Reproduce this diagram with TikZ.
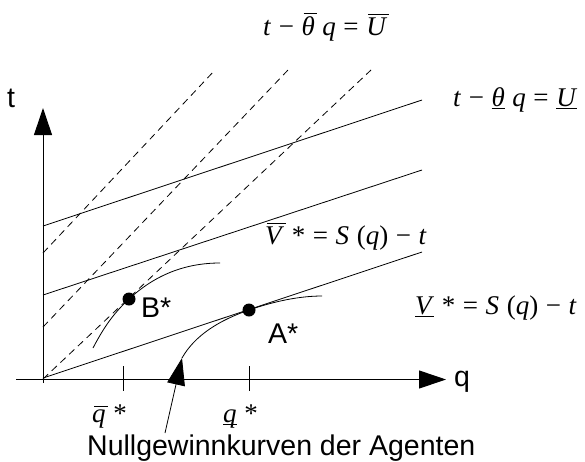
\documentclass[tikz,border=0pt]{standalone}
\usepackage{fontspec}
\setmainfont{Liberation Sans}
\newfontfamily\libser{Liberation Serif}
\usetikzlibrary{arrows.meta}
\newcommand\olx[1]{\setbox0\hbox{#1}\rlap{\kern2pt\rule[\dimexpr\ht0+2pt\relax]{\wd0}{1pt}}\box0}
\newcommand\ulx[1]{\setbox0\hbox{#1}\rlap{\rule[-3pt]{\wd0}{1pt}}\box0}
\newcommand\gp{\hspace{0.28em}}
\tikzset{
  mlbl/.style={font=\libser\fontsize{27}{29}\selectfont, inner sep=0pt, anchor=base west},
  slbl/.style={font=\fontsize{28.5}{30}\selectfont, inner sep=0pt, anchor=base west},
  axisline/.style={line width=1pt, -{Triangle[length=27pt,width=18pt]}},
  solidline/.style={line width=0.8pt},
  dashline/.style={line width=0.8pt, dash pattern=on 7pt off 5pt},
  curveline/.style={line width=0.8pt},
  dotmark/.style={circle, fill=black, inner sep=0pt, minimum size=13pt}
}
\begin{document}
\begin{tikzpicture}[x=1pt,y=-1pt]
\useasboundingbox (0,0) rectangle (585,461);
% axes
\coordinate (vb) at (43,383);
\coordinate (vt) at (43,108);
\coordinate (hl) at (16,379.5);
\coordinate (hr) at (446,379.5);
\draw[axisline] (vb) -- (vt);
\draw[axisline] (hl) -- (hr);
% solid lines
\coordinate (l1a) at (43,226); \coordinate (l1b) at (422,100);
\coordinate (l2a) at (43,295); \coordinate (l2b) at (422,170);
\coordinate (l3a) at (43,378); \coordinate (l3b) at (422,252);
\draw[solidline] (l1a) -- (l1b);
\draw[solidline] (l2a) -- (l2b);
\draw[solidline] (l3a) -- (l3b);
% dashed lines
\coordinate (d1a) at (43,253); \coordinate (d1b) at (215,70);
\coordinate (d2a) at (43,327); \coordinate (d2b) at (288,70);
\coordinate (d3a) at (43,379); \coordinate (d3b) at (371,70);
\draw[dashline] (d1a) -- (d1b);
\draw[dashline] (d2a) -- (d2b);
\draw[dashline] (d3a) -- (d3b);
% curves
\coordinate (bs) at (93,348); \coordinate (be) at (220,263);
\coordinate (as) at (182,358); \coordinate (ae) at (322,296);
\node[dotmark] (B) at (129,299) {};
\node[dotmark] (A) at (249,310) {};
\draw[curveline] (bs) .. controls (105,325) and (115,312) .. (B.center)
  .. controls (155,275) and (185,263) .. (be);
\draw[curveline] (as) .. controls (195,335) and (220,320) .. (A.center)
  .. controls (275,301) and (300,296) .. (ae);
% ticks
\coordinate (t1a) at (123,366); \coordinate (t1b) at (123,391);
\coordinate (t2a) at (249,366); \coordinate (t2b) at (249,391);
\draw[line width=0.8pt] (t1a) -- (t1b);
\draw[line width=0.8pt] (t2a) -- (t2b);
% labels
\node[slbl] (tl) at (7,107) {t};
\node[slbl] (ql) at (454,386) {q};
\node[slbl] (Bl) at (141,317) {B*};
\node[slbl] (Al) at (268,343) {A*};
\node[slbl] (nl) at (87,455) {Nullgewinnkurven der Agenten};
\coordinate (ps) at (165,433);
\draw[line width=0.8pt, -{Triangle[length=27pt,width=18pt]}] (ps) -- (as);
\node[mlbl] (m1) at (263,35) {\textit{t}\gp−\gp\olx{\textit{θ}}\gp\textit{q}\gp=\gp\olx{\textit{U}}};
\node[mlbl] (m2) at (453,106) {\textit{t}\gp−\gp\ulx{\textit{θ}}\gp\textit{q}\gp=\gp\ulx{\textit{U}}};
\node[mlbl] (m3) at (265,244) {\olx{\textit{V}}\gp*\gp=\gp\textit{S}\gp(\textit{q})\gp−\gp\textit{t}};
\node[mlbl] (m4) at (415,314) {\ulx{\textit{V}}\gp*\gp=\gp\textit{S}\gp(\textit{q})\gp−\gp\textit{t}};
\node[mlbl] (m5) at (92,422) {\olx{\textit{q}}\gp*};
\node[mlbl] (m6) at (223,422) {\ulx{\textit{q}}\gp*};
\end{tikzpicture}
\end{document}
